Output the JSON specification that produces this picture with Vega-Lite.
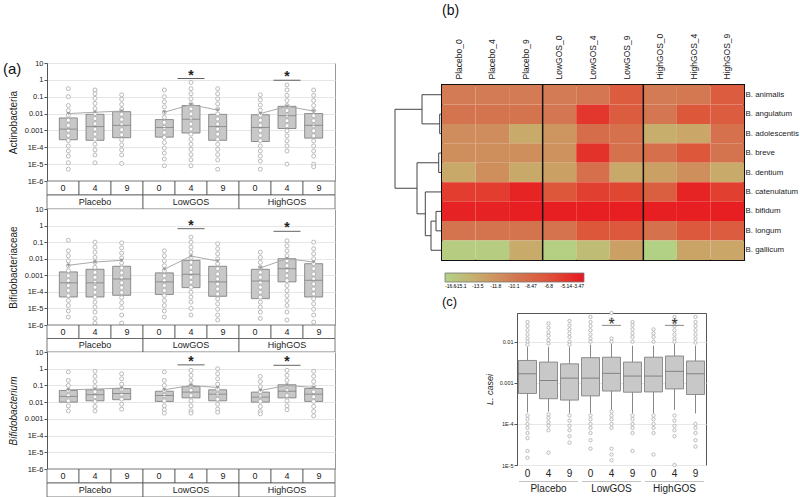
{
  "$schema": "https://vega.github.io/schema/vega-lite/v6.json",
  "padding": {"left": 2, "top": 3, "right": 5, "bottom": 5},
  "background": "white",
  "config": {
    "font": "Liberation Sans",
    "view": {"stroke": null},
    "axis": {"labelColor": "#222", "titleColor": "#222", "titleFontWeight": "normal", "domainColor": "#555", "tickColor": "#555"},
    "title": {"fontWeight": "normal", "color": "#111"}
  },
  "datasets": {
    "boxA": [
      {"p":"Act","g":"Placebo","t":"0","q1":2.8e-4,"med":1.2e-3,"q3":5.5e-3,"mean":0.01},
      {"p":"Act","g":"Placebo","t":"4","q1":2.6e-4,"med":1.7e-3,"q3":9e-3,"mean":0.012},
      {"p":"Act","g":"Placebo","t":"9","q1":3.7e-4,"med":2e-3,"q3":0.013,"mean":0.014},
      {"p":"Act","g":"LowGOS","t":"0","q1":4e-4,"med":1.5e-3,"q3":4.4e-3,"mean":0.012},
      {"p":"Act","g":"LowGOS","t":"4","q1":7e-4,"med":4.6e-3,"q3":0.03,"mean":0.034},
      {"p":"Act","g":"LowGOS","t":"9","q1":2.6e-4,"med":1.7e-3,"q3":9e-3,"mean":0.016},
      {"p":"Act","g":"HighGOS","t":"0","q1":2.2e-4,"med":1.5e-3,"q3":8.5e-3,"mean":0.01},
      {"p":"Act","g":"HighGOS","t":"4","q1":1.3e-3,"med":7.5e-3,"q3":0.027,"mean":0.027},
      {"p":"Act","g":"HighGOS","t":"9","q1":3.5e-4,"med":2e-3,"q3":0.01,"mean":0.014},
      {"p":"Bfc","g":"Placebo","t":"0","q1":4.9e-5,"med":3.5e-4,"q3":1.6e-3,"mean":0.004},
      {"p":"Bfc","g":"Placebo","t":"4","q1":4.9e-5,"med":3.5e-4,"q3":2.3e-3,"mean":0.0063},
      {"p":"Bfc","g":"Placebo","t":"9","q1":6.2e-5,"med":6e-4,"q3":3.5e-3,"mean":0.008},
      {"p":"Bfc","g":"LowGOS","t":"0","q1":7e-5,"med":4e-4,"q3":1.4e-3,"mean":0.0023},
      {"p":"Bfc","g":"LowGOS","t":"4","q1":1.8e-4,"med":1.15e-3,"q3":8e-3,"mean":0.0145},
      {"p":"Bfc","g":"LowGOS","t":"9","q1":5.4e-5,"med":4e-4,"q3":3.5e-3,"mean":0.0072},
      {"p":"Bfc","g":"HighGOS","t":"0","q1":3.9e-5,"med":4.5e-4,"q3":2.3e-3,"mean":0.0028},
      {"p":"Bfc","g":"HighGOS","t":"4","q1":4e-4,"med":2.5e-3,"q3":0.01,"mean":0.01},
      {"p":"Bfc","g":"HighGOS","t":"9","q1":4.9e-5,"med":5e-4,"q3":5e-3,"mean":0.0063},
      {"p":"Bfm","g":"Placebo","t":"0","q1":0.01,"med":0.022,"q3":0.05,"mean":0.055},
      {"p":"Bfm","g":"Placebo","t":"4","q1":0.012,"med":0.028,"q3":0.055,"mean":0.06},
      {"p":"Bfm","g":"Placebo","t":"9","q1":0.014,"med":0.033,"q3":0.065,"mean":0.07},
      {"p":"Bfm","g":"LowGOS","t":"0","q1":0.011,"med":0.025,"q3":0.045,"mean":0.055},
      {"p":"Bfm","g":"LowGOS","t":"4","q1":0.018,"med":0.04,"q3":0.085,"mean":0.1},
      {"p":"Bfm","g":"LowGOS","t":"9","q1":0.012,"med":0.03,"q3":0.055,"mean":0.075},
      {"p":"Bfm","g":"HighGOS","t":"0","q1":0.01,"med":0.02,"q3":0.04,"mean":0.05},
      {"p":"Bfm","g":"HighGOS","t":"4","q1":0.018,"med":0.045,"q3":0.11,"mean":0.1},
      {"p":"Bfm","g":"HighGOS","t":"9","q1":0.011,"med":0.03,"q3":0.065,"mean":0.075}
    ],
    "starsA": [
      {"p":"Act","g":"LowGOS","t":"4","v":1.2},
      {"p":"Act","g":"HighGOS","t":"4","v":0.95},
      {"p":"Bfc","g":"LowGOS","t":"4","v":0.65},
      {"p":"Bfc","g":"HighGOS","t":"4","v":0.45},
      {"p":"Bfm","g":"LowGOS","t":"4","v":1.7},
      {"p":"Bfm","g":"HighGOS","t":"4","v":1.6}
    ],
    "dotsA": [
      {"p":"Act","g":"Placebo","t":"0","v":0.3},{"p":"Act","g":"Placebo","t":"0","v":0.1},{"p":"Act","g":"Placebo","t":"0","v":0.03},{"p":"Act","g":"Placebo","t":"0","v":0.015},{"p":"Act","g":"Placebo","t":"0","v":0.008},{"p":"Act","g":"Placebo","t":"0","v":0.004},{"p":"Act","g":"Placebo","t":"0","v":0.002},{"p":"Act","g":"Placebo","t":"0","v":0.001},{"p":"Act","g":"Placebo","t":"0","v":5e-4},{"p":"Act","g":"Placebo","t":"0","v":2.5e-4},{"p":"Act","g":"Placebo","t":"0","v":1.2e-4},{"p":"Act","g":"Placebo","t":"0","v":6e-5},{"p":"Act","g":"Placebo","t":"0","v":3e-5},{"p":"Act","g":"Placebo","t":"0","v":1.2e-5},{"p":"Act","g":"Placebo","t":"0","v":5e-6},
      {"p":"Act","g":"Placebo","t":"4","v":0.25},{"p":"Act","g":"Placebo","t":"4","v":0.15},{"p":"Act","g":"Placebo","t":"4","v":0.08},{"p":"Act","g":"Placebo","t":"4","v":0.04},{"p":"Act","g":"Placebo","t":"4","v":0.02},{"p":"Act","g":"Placebo","t":"4","v":0.01},{"p":"Act","g":"Placebo","t":"4","v":0.005},{"p":"Act","g":"Placebo","t":"4","v":0.0025},{"p":"Act","g":"Placebo","t":"4","v":0.0012},{"p":"Act","g":"Placebo","t":"4","v":6e-4},{"p":"Act","g":"Placebo","t":"4","v":3e-4},{"p":"Act","g":"Placebo","t":"4","v":1.5e-4},{"p":"Act","g":"Placebo","t":"4","v":7e-5},{"p":"Act","g":"Placebo","t":"4","v":3.5e-5},{"p":"Act","g":"Placebo","t":"4","v":1.2e-5},
      {"p":"Act","g":"Placebo","t":"9","v":0.13},{"p":"Act","g":"Placebo","t":"9","v":0.07},{"p":"Act","g":"Placebo","t":"9","v":0.035},{"p":"Act","g":"Placebo","t":"9","v":0.018},{"p":"Act","g":"Placebo","t":"9","v":0.009},{"p":"Act","g":"Placebo","t":"9","v":0.0045},{"p":"Act","g":"Placebo","t":"9","v":0.0022},{"p":"Act","g":"Placebo","t":"9","v":0.0011},{"p":"Act","g":"Placebo","t":"9","v":5.5e-4},{"p":"Act","g":"Placebo","t":"9","v":2.8e-4},{"p":"Act","g":"Placebo","t":"9","v":1.4e-4},{"p":"Act","g":"Placebo","t":"9","v":7e-5},{"p":"Act","g":"Placebo","t":"9","v":3.5e-5},{"p":"Act","g":"Placebo","t":"9","v":1.1e-5},
      {"p":"Act","g":"LowGOS","t":"0","v":0.25},{"p":"Act","g":"LowGOS","t":"0","v":0.1},{"p":"Act","g":"LowGOS","t":"0","v":0.05},{"p":"Act","g":"LowGOS","t":"0","v":0.025},{"p":"Act","g":"LowGOS","t":"0","v":0.012},{"p":"Act","g":"LowGOS","t":"0","v":0.006},{"p":"Act","g":"LowGOS","t":"0","v":0.003},{"p":"Act","g":"LowGOS","t":"0","v":0.0015},{"p":"Act","g":"LowGOS","t":"0","v":7.5e-4},{"p":"Act","g":"LowGOS","t":"0","v":3.8e-4},{"p":"Act","g":"LowGOS","t":"0","v":1.9e-4},{"p":"Act","g":"LowGOS","t":"0","v":9e-5},{"p":"Act","g":"LowGOS","t":"0","v":4.5e-5},{"p":"Act","g":"LowGOS","t":"0","v":2e-5},{"p":"Act","g":"LowGOS","t":"0","v":8e-6},
      {"p":"Act","g":"LowGOS","t":"4","v":0.7},{"p":"Act","g":"LowGOS","t":"4","v":0.3},{"p":"Act","g":"LowGOS","t":"4","v":0.15},{"p":"Act","g":"LowGOS","t":"4","v":0.075},{"p":"Act","g":"LowGOS","t":"4","v":0.038},{"p":"Act","g":"LowGOS","t":"4","v":0.019},{"p":"Act","g":"LowGOS","t":"4","v":0.0095},{"p":"Act","g":"LowGOS","t":"4","v":0.0048},{"p":"Act","g":"LowGOS","t":"4","v":0.0024},{"p":"Act","g":"LowGOS","t":"4","v":0.0012},{"p":"Act","g":"LowGOS","t":"4","v":6e-4},{"p":"Act","g":"LowGOS","t":"4","v":3e-4},{"p":"Act","g":"LowGOS","t":"4","v":1.5e-4},{"p":"Act","g":"LowGOS","t":"4","v":7.5e-5},{"p":"Act","g":"LowGOS","t":"4","v":3.7e-5},{"p":"Act","g":"LowGOS","t":"4","v":1.8e-5},{"p":"Act","g":"LowGOS","t":"4","v":8e-6},
      {"p":"Act","g":"LowGOS","t":"9","v":0.3},{"p":"Act","g":"LowGOS","t":"9","v":0.15},{"p":"Act","g":"LowGOS","t":"9","v":0.075},{"p":"Act","g":"LowGOS","t":"9","v":0.038},{"p":"Act","g":"LowGOS","t":"9","v":0.019},{"p":"Act","g":"LowGOS","t":"9","v":0.0095},{"p":"Act","g":"LowGOS","t":"9","v":0.0048},{"p":"Act","g":"LowGOS","t":"9","v":0.0024},{"p":"Act","g":"LowGOS","t":"9","v":0.0012},{"p":"Act","g":"LowGOS","t":"9","v":6e-4},{"p":"Act","g":"LowGOS","t":"9","v":3e-4},{"p":"Act","g":"LowGOS","t":"9","v":1.5e-4},{"p":"Act","g":"LowGOS","t":"9","v":7.5e-5},{"p":"Act","g":"LowGOS","t":"9","v":3.7e-5},{"p":"Act","g":"LowGOS","t":"9","v":1.8e-5},{"p":"Act","g":"LowGOS","t":"9","v":5e-6},
      {"p":"Act","g":"HighGOS","t":"0","v":0.13},{"p":"Act","g":"HighGOS","t":"0","v":0.065},{"p":"Act","g":"HighGOS","t":"0","v":0.032},{"p":"Act","g":"HighGOS","t":"0","v":0.016},{"p":"Act","g":"HighGOS","t":"0","v":0.008},{"p":"Act","g":"HighGOS","t":"0","v":0.004},{"p":"Act","g":"HighGOS","t":"0","v":0.002},{"p":"Act","g":"HighGOS","t":"0","v":0.001},{"p":"Act","g":"HighGOS","t":"0","v":5e-4},{"p":"Act","g":"HighGOS","t":"0","v":2.5e-4},{"p":"Act","g":"HighGOS","t":"0","v":1.2e-4},{"p":"Act","g":"HighGOS","t":"0","v":6e-5},{"p":"Act","g":"HighGOS","t":"0","v":3e-5},{"p":"Act","g":"HighGOS","t":"0","v":1.5e-5},{"p":"Act","g":"HighGOS","t":"0","v":5e-6},
      {"p":"Act","g":"HighGOS","t":"4","v":0.5},{"p":"Act","g":"HighGOS","t":"4","v":0.25},{"p":"Act","g":"HighGOS","t":"4","v":0.12},{"p":"Act","g":"HighGOS","t":"4","v":0.06},{"p":"Act","g":"HighGOS","t":"4","v":0.03},{"p":"Act","g":"HighGOS","t":"4","v":0.015},{"p":"Act","g":"HighGOS","t":"4","v":0.0075},{"p":"Act","g":"HighGOS","t":"4","v":0.0038},{"p":"Act","g":"HighGOS","t":"4","v":0.0019},{"p":"Act","g":"HighGOS","t":"4","v":9.5e-4},{"p":"Act","g":"HighGOS","t":"4","v":4.8e-4},{"p":"Act","g":"HighGOS","t":"4","v":2.4e-4},{"p":"Act","g":"HighGOS","t":"4","v":1.2e-4},{"p":"Act","g":"HighGOS","t":"4","v":6e-5},{"p":"Act","g":"HighGOS","t":"4","v":1e-5},
      {"p":"Act","g":"HighGOS","t":"9","v":0.25},{"p":"Act","g":"HighGOS","t":"9","v":0.12},{"p":"Act","g":"HighGOS","t":"9","v":0.06},{"p":"Act","g":"HighGOS","t":"9","v":0.03},{"p":"Act","g":"HighGOS","t":"9","v":0.015},{"p":"Act","g":"HighGOS","t":"9","v":0.0075},{"p":"Act","g":"HighGOS","t":"9","v":0.0038},{"p":"Act","g":"HighGOS","t":"9","v":0.0019},{"p":"Act","g":"HighGOS","t":"9","v":9.5e-4},{"p":"Act","g":"HighGOS","t":"9","v":4.8e-4},{"p":"Act","g":"HighGOS","t":"9","v":2.4e-4},{"p":"Act","g":"HighGOS","t":"9","v":1.2e-4},{"p":"Act","g":"HighGOS","t":"9","v":6e-5},{"p":"Act","g":"HighGOS","t":"9","v":3e-5},{"p":"Act","g":"HighGOS","t":"9","v":1e-5},{"p":"Act","g":"HighGOS","t":"9","v":7e-6},
      {"p":"Bfc","g":"Placebo","t":"0","v":0.13},{"p":"Bfc","g":"Placebo","t":"0","v":0.03},{"p":"Bfc","g":"Placebo","t":"0","v":0.015},{"p":"Bfc","g":"Placebo","t":"0","v":0.0075},{"p":"Bfc","g":"Placebo","t":"0","v":0.0038},{"p":"Bfc","g":"Placebo","t":"0","v":0.0019},{"p":"Bfc","g":"Placebo","t":"0","v":9.5e-4},{"p":"Bfc","g":"Placebo","t":"0","v":4.8e-4},{"p":"Bfc","g":"Placebo","t":"0","v":2.4e-4},{"p":"Bfc","g":"Placebo","t":"0","v":1.2e-4},{"p":"Bfc","g":"Placebo","t":"0","v":6e-5},{"p":"Bfc","g":"Placebo","t":"0","v":3e-5},{"p":"Bfc","g":"Placebo","t":"0","v":1.5e-5},{"p":"Bfc","g":"Placebo","t":"0","v":7e-6},{"p":"Bfc","g":"Placebo","t":"0","v":3e-6},
      {"p":"Bfc","g":"Placebo","t":"4","v":0.1},{"p":"Bfc","g":"Placebo","t":"4","v":0.05},{"p":"Bfc","g":"Placebo","t":"4","v":0.025},{"p":"Bfc","g":"Placebo","t":"4","v":0.012},{"p":"Bfc","g":"Placebo","t":"4","v":0.006},{"p":"Bfc","g":"Placebo","t":"4","v":0.003},{"p":"Bfc","g":"Placebo","t":"4","v":0.0015},{"p":"Bfc","g":"Placebo","t":"4","v":7.5e-4},{"p":"Bfc","g":"Placebo","t":"4","v":3.8e-4},{"p":"Bfc","g":"Placebo","t":"4","v":1.9e-4},{"p":"Bfc","g":"Placebo","t":"4","v":9.5e-5},{"p":"Bfc","g":"Placebo","t":"4","v":4.8e-5},{"p":"Bfc","g":"Placebo","t":"4","v":2.4e-5},{"p":"Bfc","g":"Placebo","t":"4","v":1.2e-5},{"p":"Bfc","g":"Placebo","t":"4","v":6e-6},{"p":"Bfc","g":"Placebo","t":"4","v":2.5e-6},{"p":"Bfc","g":"Placebo","t":"4","v":1.3e-6},
      {"p":"Bfc","g":"Placebo","t":"9","v":0.09},{"p":"Bfc","g":"Placebo","t":"9","v":0.045},{"p":"Bfc","g":"Placebo","t":"9","v":0.022},{"p":"Bfc","g":"Placebo","t":"9","v":0.011},{"p":"Bfc","g":"Placebo","t":"9","v":0.0055},{"p":"Bfc","g":"Placebo","t":"9","v":0.0028},{"p":"Bfc","g":"Placebo","t":"9","v":0.0014},{"p":"Bfc","g":"Placebo","t":"9","v":7e-4},{"p":"Bfc","g":"Placebo","t":"9","v":3.5e-4},{"p":"Bfc","g":"Placebo","t":"9","v":1.8e-4},{"p":"Bfc","g":"Placebo","t":"9","v":9e-5},{"p":"Bfc","g":"Placebo","t":"9","v":4.5e-5},{"p":"Bfc","g":"Placebo","t":"9","v":2.2e-5},{"p":"Bfc","g":"Placebo","t":"9","v":1.1e-5},{"p":"Bfc","g":"Placebo","t":"9","v":4e-6},{"p":"Bfc","g":"Placebo","t":"9","v":1.3e-6},
      {"p":"Bfc","g":"LowGOS","t":"0","v":0.03},{"p":"Bfc","g":"LowGOS","t":"0","v":0.015},{"p":"Bfc","g":"LowGOS","t":"0","v":0.0075},{"p":"Bfc","g":"LowGOS","t":"0","v":0.0038},{"p":"Bfc","g":"LowGOS","t":"0","v":0.0019},{"p":"Bfc","g":"LowGOS","t":"0","v":9.5e-4},{"p":"Bfc","g":"LowGOS","t":"0","v":4.8e-4},{"p":"Bfc","g":"LowGOS","t":"0","v":2.4e-4},{"p":"Bfc","g":"LowGOS","t":"0","v":1.2e-4},{"p":"Bfc","g":"LowGOS","t":"0","v":6e-5},{"p":"Bfc","g":"LowGOS","t":"0","v":3e-5},{"p":"Bfc","g":"LowGOS","t":"0","v":1.5e-5},{"p":"Bfc","g":"LowGOS","t":"0","v":7e-6},{"p":"Bfc","g":"LowGOS","t":"0","v":3e-6},
      {"p":"Bfc","g":"LowGOS","t":"4","v":0.2},{"p":"Bfc","g":"LowGOS","t":"4","v":0.1},{"p":"Bfc","g":"LowGOS","t":"4","v":0.05},{"p":"Bfc","g":"LowGOS","t":"4","v":0.025},{"p":"Bfc","g":"LowGOS","t":"4","v":0.012},{"p":"Bfc","g":"LowGOS","t":"4","v":0.006},{"p":"Bfc","g":"LowGOS","t":"4","v":0.003},{"p":"Bfc","g":"LowGOS","t":"4","v":0.0015},{"p":"Bfc","g":"LowGOS","t":"4","v":7.5e-4},{"p":"Bfc","g":"LowGOS","t":"4","v":3.8e-4},{"p":"Bfc","g":"LowGOS","t":"4","v":1.9e-4},{"p":"Bfc","g":"LowGOS","t":"4","v":9.5e-5},{"p":"Bfc","g":"LowGOS","t":"4","v":4.8e-5},{"p":"Bfc","g":"LowGOS","t":"4","v":2.4e-5},{"p":"Bfc","g":"LowGOS","t":"4","v":1e-5},{"p":"Bfc","g":"LowGOS","t":"4","v":4e-6},
      {"p":"Bfc","g":"LowGOS","t":"9","v":0.08},{"p":"Bfc","g":"LowGOS","t":"9","v":0.04},{"p":"Bfc","g":"LowGOS","t":"9","v":0.02},{"p":"Bfc","g":"LowGOS","t":"9","v":0.01},{"p":"Bfc","g":"LowGOS","t":"9","v":0.005},{"p":"Bfc","g":"LowGOS","t":"9","v":0.0025},{"p":"Bfc","g":"LowGOS","t":"9","v":0.0012},{"p":"Bfc","g":"LowGOS","t":"9","v":6e-4},{"p":"Bfc","g":"LowGOS","t":"9","v":3e-4},{"p":"Bfc","g":"LowGOS","t":"9","v":1.5e-4},{"p":"Bfc","g":"LowGOS","t":"9","v":7.5e-5},{"p":"Bfc","g":"LowGOS","t":"9","v":3.8e-5},{"p":"Bfc","g":"LowGOS","t":"9","v":1.9e-5},{"p":"Bfc","g":"LowGOS","t":"9","v":9e-6},{"p":"Bfc","g":"LowGOS","t":"9","v":4e-6},{"p":"Bfc","g":"LowGOS","t":"9","v":2e-6},
      {"p":"Bfc","g":"HighGOS","t":"0","v":0.025},{"p":"Bfc","g":"HighGOS","t":"0","v":0.012},{"p":"Bfc","g":"HighGOS","t":"0","v":0.006},{"p":"Bfc","g":"HighGOS","t":"0","v":0.003},{"p":"Bfc","g":"HighGOS","t":"0","v":0.0015},{"p":"Bfc","g":"HighGOS","t":"0","v":7.5e-4},{"p":"Bfc","g":"HighGOS","t":"0","v":3.8e-4},{"p":"Bfc","g":"HighGOS","t":"0","v":1.9e-4},{"p":"Bfc","g":"HighGOS","t":"0","v":9.5e-5},{"p":"Bfc","g":"HighGOS","t":"0","v":4.8e-5},{"p":"Bfc","g":"HighGOS","t":"0","v":2.4e-5},{"p":"Bfc","g":"HighGOS","t":"0","v":1.2e-5},{"p":"Bfc","g":"HighGOS","t":"0","v":6e-6},{"p":"Bfc","g":"HighGOS","t":"0","v":2.5e-6},
      {"p":"Bfc","g":"HighGOS","t":"4","v":0.12},{"p":"Bfc","g":"HighGOS","t":"4","v":0.06},{"p":"Bfc","g":"HighGOS","t":"4","v":0.03},{"p":"Bfc","g":"HighGOS","t":"4","v":0.015},{"p":"Bfc","g":"HighGOS","t":"4","v":0.0075},{"p":"Bfc","g":"HighGOS","t":"4","v":0.0038},{"p":"Bfc","g":"HighGOS","t":"4","v":0.0019},{"p":"Bfc","g":"HighGOS","t":"4","v":9.5e-4},{"p":"Bfc","g":"HighGOS","t":"4","v":4.8e-4},{"p":"Bfc","g":"HighGOS","t":"4","v":2.4e-4},{"p":"Bfc","g":"HighGOS","t":"4","v":1.2e-4},{"p":"Bfc","g":"HighGOS","t":"4","v":6e-5},{"p":"Bfc","g":"HighGOS","t":"4","v":3e-5},{"p":"Bfc","g":"HighGOS","t":"4","v":1.5e-5},{"p":"Bfc","g":"HighGOS","t":"4","v":6e-6},{"p":"Bfc","g":"HighGOS","t":"4","v":2e-6},
      {"p":"Bfc","g":"HighGOS","t":"9","v":0.1},{"p":"Bfc","g":"HighGOS","t":"9","v":0.04},{"p":"Bfc","g":"HighGOS","t":"9","v":0.02},{"p":"Bfc","g":"HighGOS","t":"9","v":0.01},{"p":"Bfc","g":"HighGOS","t":"9","v":0.005},{"p":"Bfc","g":"HighGOS","t":"9","v":0.0025},{"p":"Bfc","g":"HighGOS","t":"9","v":0.0012},{"p":"Bfc","g":"HighGOS","t":"9","v":6e-4},{"p":"Bfc","g":"HighGOS","t":"9","v":3e-4},{"p":"Bfc","g":"HighGOS","t":"9","v":1.5e-4},{"p":"Bfc","g":"HighGOS","t":"9","v":7.5e-5},{"p":"Bfc","g":"HighGOS","t":"9","v":3.8e-5},{"p":"Bfc","g":"HighGOS","t":"9","v":1.9e-5},{"p":"Bfc","g":"HighGOS","t":"9","v":9e-6},{"p":"Bfc","g":"HighGOS","t":"9","v":4e-6},{"p":"Bfc","g":"HighGOS","t":"9","v":1.5e-6},
      {"p":"Bfm","g":"Placebo","t":"0","v":0.65},{"p":"Bfm","g":"Placebo","t":"0","v":0.2},{"p":"Bfm","g":"Placebo","t":"0","v":0.1},{"p":"Bfm","g":"Placebo","t":"0","v":0.05},{"p":"Bfm","g":"Placebo","t":"0","v":0.025},{"p":"Bfm","g":"Placebo","t":"0","v":0.012},{"p":"Bfm","g":"Placebo","t":"0","v":0.006},{"p":"Bfm","g":"Placebo","t":"0","v":0.003},
      {"p":"Bfm","g":"Placebo","t":"4","v":0.7},{"p":"Bfm","g":"Placebo","t":"4","v":0.35},{"p":"Bfm","g":"Placebo","t":"4","v":0.17},{"p":"Bfm","g":"Placebo","t":"4","v":0.085},{"p":"Bfm","g":"Placebo","t":"4","v":0.042},{"p":"Bfm","g":"Placebo","t":"4","v":0.021},{"p":"Bfm","g":"Placebo","t":"4","v":0.011},{"p":"Bfm","g":"Placebo","t":"4","v":0.0055},{"p":"Bfm","g":"Placebo","t":"4","v":0.003},
      {"p":"Bfm","g":"Placebo","t":"9","v":0.5},{"p":"Bfm","g":"Placebo","t":"9","v":0.25},{"p":"Bfm","g":"Placebo","t":"9","v":0.12},{"p":"Bfm","g":"Placebo","t":"9","v":0.06},{"p":"Bfm","g":"Placebo","t":"9","v":0.03},{"p":"Bfm","g":"Placebo","t":"9","v":0.015},{"p":"Bfm","g":"Placebo","t":"9","v":0.0075},{"p":"Bfm","g":"Placebo","t":"9","v":0.0038},
      {"p":"Bfm","g":"LowGOS","t":"0","v":0.65},{"p":"Bfm","g":"LowGOS","t":"0","v":0.2},{"p":"Bfm","g":"LowGOS","t":"0","v":0.1},{"p":"Bfm","g":"LowGOS","t":"0","v":0.05},{"p":"Bfm","g":"LowGOS","t":"0","v":0.025},{"p":"Bfm","g":"LowGOS","t":"0","v":0.012},{"p":"Bfm","g":"LowGOS","t":"0","v":0.006},{"p":"Bfm","g":"LowGOS","t":"0","v":0.0035},{"p":"Bfm","g":"LowGOS","t":"0","v":0.0022},
      {"p":"Bfm","g":"LowGOS","t":"4","v":0.8},{"p":"Bfm","g":"LowGOS","t":"4","v":0.4},{"p":"Bfm","g":"LowGOS","t":"4","v":0.2},{"p":"Bfm","g":"LowGOS","t":"4","v":0.1},{"p":"Bfm","g":"LowGOS","t":"4","v":0.05},{"p":"Bfm","g":"LowGOS","t":"4","v":0.025},{"p":"Bfm","g":"LowGOS","t":"4","v":0.012},{"p":"Bfm","g":"LowGOS","t":"4","v":0.006},{"p":"Bfm","g":"LowGOS","t":"4","v":0.003},{"p":"Bfm","g":"LowGOS","t":"4","v":0.0022},
      {"p":"Bfm","g":"LowGOS","t":"9","v":1},{"p":"Bfm","g":"LowGOS","t":"9","v":0.5},{"p":"Bfm","g":"LowGOS","t":"9","v":0.25},{"p":"Bfm","g":"LowGOS","t":"9","v":0.12},{"p":"Bfm","g":"LowGOS","t":"9","v":0.06},{"p":"Bfm","g":"LowGOS","t":"9","v":0.03},{"p":"Bfm","g":"LowGOS","t":"9","v":0.015},{"p":"Bfm","g":"LowGOS","t":"9","v":0.0075},{"p":"Bfm","g":"LowGOS","t":"9","v":0.0038},{"p":"Bfm","g":"LowGOS","t":"9","v":0.0025},
      {"p":"Bfm","g":"HighGOS","t":"0","v":0.35},{"p":"Bfm","g":"HighGOS","t":"0","v":0.17},{"p":"Bfm","g":"HighGOS","t":"0","v":0.085},{"p":"Bfm","g":"HighGOS","t":"0","v":0.042},{"p":"Bfm","g":"HighGOS","t":"0","v":0.021},{"p":"Bfm","g":"HighGOS","t":"0","v":0.011},{"p":"Bfm","g":"HighGOS","t":"0","v":0.0055},{"p":"Bfm","g":"HighGOS","t":"0","v":0.0028},{"p":"Bfm","g":"HighGOS","t":"0","v":0.002},
      {"p":"Bfm","g":"HighGOS","t":"4","v":0.8},{"p":"Bfm","g":"HighGOS","t":"4","v":0.4},{"p":"Bfm","g":"HighGOS","t":"4","v":0.2},{"p":"Bfm","g":"HighGOS","t":"4","v":0.1},{"p":"Bfm","g":"HighGOS","t":"4","v":0.05},{"p":"Bfm","g":"HighGOS","t":"4","v":0.025},{"p":"Bfm","g":"HighGOS","t":"4","v":0.012},{"p":"Bfm","g":"HighGOS","t":"4","v":0.006},{"p":"Bfm","g":"HighGOS","t":"4","v":0.0035},
      {"p":"Bfm","g":"HighGOS","t":"9","v":0.7},{"p":"Bfm","g":"HighGOS","t":"9","v":0.35},{"p":"Bfm","g":"HighGOS","t":"9","v":0.17},{"p":"Bfm","g":"HighGOS","t":"9","v":0.085},{"p":"Bfm","g":"HighGOS","t":"9","v":0.042},{"p":"Bfm","g":"HighGOS","t":"9","v":0.021},{"p":"Bfm","g":"HighGOS","t":"9","v":0.011},{"p":"Bfm","g":"HighGOS","t":"9","v":0.0055},{"p":"Bfm","g":"HighGOS","t":"9","v":0.0028},{"p":"Bfm","g":"HighGOS","t":"9","v":0.0015}
    ],
    "tblT": [
      {"g":"Placebo","t":"0","r":"t"},{"g":"Placebo","t":"4","r":"t"},{"g":"Placebo","t":"9","r":"t"},
      {"g":"LowGOS","t":"0","r":"t"},{"g":"LowGOS","t":"4","r":"t"},{"g":"LowGOS","t":"9","r":"t"},
      {"g":"HighGOS","t":"0","r":"t"},{"g":"HighGOS","t":"4","r":"t"},{"g":"HighGOS","t":"9","r":"t"}
    ],
    "tblG": [{"g":"Placebo","r":"g"},{"g":"LowGOS","r":"g"},{"g":"HighGOS","r":"g"}],
    "lineC": [{"g":"Placebo","r":"l"},{"g":"LowGOS","r":"l"},{"g":"HighGOS","r":"l"}],
    "heat": [
      {"s":"B. animalis","c":"Placebo_0","v":-10.2},{"s":"B. animalis","c":"Placebo_4","v":-10.2},{"s":"B. animalis","c":"Placebo_9","v":-10.2},{"s":"B. animalis","c":"LowGOS_0","v":-10.2},{"s":"B. animalis","c":"LowGOS_4","v":-9.8},{"s":"B. animalis","c":"LowGOS_9","v":-7.6},{"s":"B. animalis","c":"HighGOS_0","v":-10.2},{"s":"B. animalis","c":"HighGOS_4","v":-9.9},{"s":"B. animalis","c":"HighGOS_9","v":-7.6},
      {"s":"B. angulatum","c":"Placebo_0","v":-9.6},{"s":"B. angulatum","c":"Placebo_4","v":-9.6},{"s":"B. angulatum","c":"Placebo_9","v":-9.6},{"s":"B. angulatum","c":"LowGOS_0","v":-9.8},{"s":"B. angulatum","c":"LowGOS_4","v":-5.2},{"s":"B. angulatum","c":"LowGOS_9","v":-7.6},{"s":"B. angulatum","c":"HighGOS_0","v":-9.8},{"s":"B. angulatum","c":"HighGOS_4","v":-7.2},{"s":"B. angulatum","c":"HighGOS_9","v":-7.6},
      {"s":"B. adolescentis","c":"Placebo_0","v":-11.4},{"s":"B. adolescentis","c":"Placebo_4","v":-11.4},{"s":"B. adolescentis","c":"Placebo_9","v":-13.6},{"s":"B. adolescentis","c":"LowGOS_0","v":-12},{"s":"B. adolescentis","c":"LowGOS_4","v":-9},{"s":"B. adolescentis","c":"LowGOS_9","v":-9.4},{"s":"B. adolescentis","c":"HighGOS_0","v":-13.8},{"s":"B. adolescentis","c":"HighGOS_4","v":-13.2},{"s":"B. adolescentis","c":"HighGOS_9","v":-9.4},
      {"s":"B. breve","c":"Placebo_0","v":-11.6},{"s":"B. breve","c":"Placebo_4","v":-11.6},{"s":"B. breve","c":"Placebo_9","v":-11.6},{"s":"B. breve","c":"LowGOS_0","v":-11.8},{"s":"B. breve","c":"LowGOS_4","v":-5},{"s":"B. breve","c":"LowGOS_9","v":-9.4},{"s":"B. breve","c":"HighGOS_0","v":-9.2},{"s":"B. breve","c":"HighGOS_4","v":-7.2},{"s":"B. breve","c":"HighGOS_9","v":-9.6},
      {"s":"B. dentium","c":"Placebo_0","v":-13.4},{"s":"B. dentium","c":"Placebo_4","v":-11.6},{"s":"B. dentium","c":"Placebo_9","v":-13.4},{"s":"B. dentium","c":"LowGOS_0","v":-12.8},{"s":"B. dentium","c":"LowGOS_4","v":-9.2},{"s":"B. dentium","c":"LowGOS_9","v":-13.4},{"s":"B. dentium","c":"HighGOS_0","v":-12.8},{"s":"B. dentium","c":"HighGOS_4","v":-11.6},{"s":"B. dentium","c":"HighGOS_9","v":-13.6},
      {"s":"B. catenulatum","c":"Placebo_0","v":-5.6},{"s":"B. catenulatum","c":"Placebo_4","v":-5.6},{"s":"B. catenulatum","c":"Placebo_9","v":-4.2},{"s":"B. catenulatum","c":"LowGOS_0","v":-7.2},{"s":"B. catenulatum","c":"LowGOS_4","v":-5.8},{"s":"B. catenulatum","c":"LowGOS_9","v":-6.2},{"s":"B. catenulatum","c":"HighGOS_0","v":-7.8},{"s":"B. catenulatum","c":"HighGOS_4","v":-4.2},{"s":"B. catenulatum","c":"HighGOS_9","v":-5.8},
      {"s":"B. bifidum","c":"Placebo_0","v":-4.1},{"s":"B. bifidum","c":"Placebo_4","v":-4.1},{"s":"B. bifidum","c":"Placebo_9","v":-3.9},{"s":"B. bifidum","c":"LowGOS_0","v":-3.9},{"s":"B. bifidum","c":"LowGOS_4","v":-3.9},{"s":"B. bifidum","c":"LowGOS_9","v":-3.9},{"s":"B. bifidum","c":"HighGOS_0","v":-3.9},{"s":"B. bifidum","c":"HighGOS_4","v":-3.9},{"s":"B. bifidum","c":"HighGOS_9","v":-3.9},
      {"s":"B. longum","c":"Placebo_0","v":-9.6},{"s":"B. longum","c":"Placebo_4","v":-9.6},{"s":"B. longum","c":"Placebo_9","v":-9.6},{"s":"B. longum","c":"LowGOS_0","v":-9.5},{"s":"B. longum","c":"LowGOS_4","v":-7.2},{"s":"B. longum","c":"LowGOS_9","v":-7.4},{"s":"B. longum","c":"HighGOS_0","v":-9.4},{"s":"B. longum","c":"HighGOS_4","v":-7.4},{"s":"B. longum","c":"HighGOS_9","v":-7.6},
      {"s":"B. gallicum","c":"Placebo_0","v":-16},{"s":"B. gallicum","c":"Placebo_4","v":-16},{"s":"B. gallicum","c":"Placebo_9","v":-13.6},{"s":"B. gallicum","c":"LowGOS_0","v":-16.2},{"s":"B. gallicum","c":"LowGOS_4","v":-14.8},{"s":"B. gallicum","c":"LowGOS_9","v":-12.8},{"s":"B. gallicum","c":"HighGOS_0","v":-16.4},{"s":"B. gallicum","c":"HighGOS_4","v":-13},{"s":"B. gallicum","c":"HighGOS_9","v":-13.2}
    ],
    "gsep": [{"c":"LowGOS_0"},{"c":"HighGOS_0"}],
    "dendro": [
      {"h1":2.3,"h2":2.3,"y1":1,"y2":2},{"h1":20,"h2":20,"y1":0,"y2":1.5},{"h1":3.3,"h2":3.3,"y1":3,"y2":4},{"h1":6,"h2":6,"y1":6,"y2":7},
      {"h1":11,"h2":11,"y1":6.5,"y2":8},{"h1":16.7,"h2":16.7,"y1":5,"y2":7.25},{"h1":25,"h2":25,"y1":3.5,"y2":6.125},{"h1":47,"h2":47,"y1":0.75,"y2":4.81},
      {"h1":0,"h2":20,"y1":0,"y2":0},{"h1":0,"h2":2.3,"y1":1,"y2":1},{"h1":0,"h2":2.3,"y1":2,"y2":2},{"h1":0,"h2":3.3,"y1":3,"y2":3},{"h1":0,"h2":3.3,"y1":4,"y2":4},
      {"h1":0,"h2":16.7,"y1":5,"y2":5},{"h1":0,"h2":6,"y1":6,"y2":6},{"h1":0,"h2":6,"y1":7,"y2":7},{"h1":0,"h2":11,"y1":8,"y2":8},
      {"h1":2.3,"h2":20,"y1":1.5,"y2":1.5},{"h1":3.3,"h2":25,"y1":3.5,"y2":3.5},{"h1":6,"h2":11,"y1":6.5,"y2":6.5},{"h1":11,"h2":16.7,"y1":7.25,"y2":7.25},
      {"h1":16.7,"h2":25,"y1":6.125,"y2":6.125},{"h1":20,"h2":47,"y1":0.75,"y2":0.75},{"h1":25,"h2":47,"y1":4.81,"y2":4.81}
    ],
    "boxC": [
      {"g":"Placebo","t":"0","lo":1.9e-4,"q1":5.5e-4,"med":1.66e-3,"q3":3.5e-3,"hi":7.5e-3},
      {"g":"Placebo","t":"4","lo":2e-4,"q1":4.1e-4,"med":1.14e-3,"q3":3.2e-3,"hi":7.5e-3},
      {"g":"Placebo","t":"9","lo":1.8e-4,"q1":3.8e-4,"med":1.3e-3,"q3":2.9e-3,"hi":7.5e-3},
      {"g":"LowGOS","t":"0","lo":1.8e-4,"q1":4.8e-4,"med":1.3e-3,"q3":4.1e-3,"hi":8.5e-3},
      {"g":"LowGOS","t":"4","lo":2.2e-4,"q1":6.3e-4,"med":1.7e-3,"q3":4.2e-3,"hi":9e-3},
      {"g":"LowGOS","t":"9","lo":1.8e-4,"q1":5.9e-4,"med":1.46e-3,"q3":3.2e-3,"hi":8e-3},
      {"g":"HighGOS","t":"0","lo":1.8e-4,"q1":6e-4,"med":1.46e-3,"q3":4.2e-3,"hi":8e-3},
      {"g":"HighGOS","t":"4","lo":2.2e-4,"q1":7.1e-4,"med":1.9e-3,"q3":4.5e-3,"hi":9e-3},
      {"g":"HighGOS","t":"9","lo":1.8e-4,"q1":5.2e-4,"med":1.66e-3,"q3":3.4e-3,"hi":8e-3}
    ],
    "starsC": [{"g":"LowGOS","t":"4","v":0.025},{"g":"HighGOS","t":"4","v":0.025}],
    "dotsC": [
      {"g":"Placebo","t":"0","v":0.03},{"g":"Placebo","t":"0","v":0.024},{"g":"Placebo","t":"0","v":0.019},{"g":"Placebo","t":"0","v":0.015},{"g":"Placebo","t":"0","v":0.012},{"g":"Placebo","t":"0","v":0.01},{"g":"Placebo","t":"0","v":0.0085},{"g":"Placebo","t":"0","v":1.6e-4},{"g":"Placebo","t":"0","v":1.3e-4},{"g":"Placebo","t":"0","v":1e-4},{"g":"Placebo","t":"0","v":8e-5},{"g":"Placebo","t":"0","v":6e-5},{"g":"Placebo","t":"0","v":4.5e-5},{"g":"Placebo","t":"0","v":2.2e-5},{"g":"Placebo","t":"0","v":1.5e-5},
      {"g":"Placebo","t":"4","v":0.028},{"g":"Placebo","t":"4","v":0.022},{"g":"Placebo","t":"4","v":0.017},{"g":"Placebo","t":"4","v":0.014},{"g":"Placebo","t":"4","v":0.011},{"g":"Placebo","t":"4","v":0.009},{"g":"Placebo","t":"4","v":1.7e-4},{"g":"Placebo","t":"4","v":1.4e-4},{"g":"Placebo","t":"4","v":1.1e-4},{"g":"Placebo","t":"4","v":9e-5},{"g":"Placebo","t":"4","v":7e-5},{"g":"Placebo","t":"4","v":2e-5},
      {"g":"Placebo","t":"9","v":0.032},{"g":"Placebo","t":"9","v":0.025},{"g":"Placebo","t":"9","v":0.02},{"g":"Placebo","t":"9","v":0.016},{"g":"Placebo","t":"9","v":0.013},{"g":"Placebo","t":"9","v":0.01},{"g":"Placebo","t":"9","v":0.0085},{"g":"Placebo","t":"9","v":1.6e-4},{"g":"Placebo","t":"9","v":1.2e-4},{"g":"Placebo","t":"9","v":9e-5},{"g":"Placebo","t":"9","v":7e-5},{"g":"Placebo","t":"9","v":5e-5},{"g":"Placebo","t":"9","v":3.5e-5},
      {"g":"LowGOS","t":"0","v":0.04},{"g":"LowGOS","t":"0","v":0.03},{"g":"LowGOS","t":"0","v":0.024},{"g":"LowGOS","t":"0","v":0.019},{"g":"LowGOS","t":"0","v":0.015},{"g":"LowGOS","t":"0","v":0.012},{"g":"LowGOS","t":"0","v":0.01},{"g":"LowGOS","t":"0","v":1.6e-4},{"g":"LowGOS","t":"0","v":1.3e-4},{"g":"LowGOS","t":"0","v":1e-4},{"g":"LowGOS","t":"0","v":8e-5},{"g":"LowGOS","t":"0","v":6e-5},{"g":"LowGOS","t":"0","v":4e-5},{"g":"LowGOS","t":"0","v":2.5e-5},
      {"g":"LowGOS","t":"4","v":0.05},{"g":"LowGOS","t":"4","v":0.035},{"g":"LowGOS","t":"4","v":0.012},{"g":"LowGOS","t":"4","v":0.01},{"g":"LowGOS","t":"4","v":2e-4},{"g":"LowGOS","t":"4","v":1.6e-4},{"g":"LowGOS","t":"4","v":1.3e-4},{"g":"LowGOS","t":"4","v":1e-4},{"g":"LowGOS","t":"4","v":8e-5},{"g":"LowGOS","t":"4","v":2.5e-5},{"g":"LowGOS","t":"4","v":1.8e-5},{"g":"LowGOS","t":"4","v":1.3e-5},
      {"g":"LowGOS","t":"9","v":0.03},{"g":"LowGOS","t":"9","v":0.025},{"g":"LowGOS","t":"9","v":0.02},{"g":"LowGOS","t":"9","v":0.016},{"g":"LowGOS","t":"9","v":0.013},{"g":"LowGOS","t":"9","v":0.01},{"g":"LowGOS","t":"9","v":1.6e-4},{"g":"LowGOS","t":"9","v":1.3e-4},{"g":"LowGOS","t":"9","v":1e-4},{"g":"LowGOS","t":"9","v":8e-5},{"g":"LowGOS","t":"9","v":6e-5},{"g":"LowGOS","t":"9","v":2.2e-5},
      {"g":"HighGOS","t":"0","v":0.02},{"g":"HighGOS","t":"0","v":0.016},{"g":"HighGOS","t":"0","v":0.013},{"g":"HighGOS","t":"0","v":0.01},{"g":"HighGOS","t":"0","v":1.6e-4},{"g":"HighGOS","t":"0","v":1.3e-4},{"g":"HighGOS","t":"0","v":1e-4},{"g":"HighGOS","t":"0","v":8e-5},{"g":"HighGOS","t":"0","v":6e-5},{"g":"HighGOS","t":"0","v":1.8e-5},
      {"g":"HighGOS","t":"4","v":0.04},{"g":"HighGOS","t":"4","v":0.03},{"g":"HighGOS","t":"4","v":0.024},{"g":"HighGOS","t":"4","v":0.019},{"g":"HighGOS","t":"4","v":0.015},{"g":"HighGOS","t":"4","v":0.012},{"g":"HighGOS","t":"4","v":0.01},{"g":"HighGOS","t":"4","v":1.6e-4},{"g":"HighGOS","t":"4","v":1.2e-4},{"g":"HighGOS","t":"4","v":9e-5},{"g":"HighGOS","t":"4","v":7e-5},{"g":"HighGOS","t":"4","v":5e-5},{"g":"HighGOS","t":"4","v":1e-5},
      {"g":"HighGOS","t":"9","v":0.04},{"g":"HighGOS","t":"9","v":0.03},{"g":"HighGOS","t":"9","v":0.024},{"g":"HighGOS","t":"9","v":0.019},{"g":"HighGOS","t":"9","v":0.015},{"g":"HighGOS","t":"9","v":0.012},{"g":"HighGOS","t":"9","v":0.0095},{"g":"HighGOS","t":"9","v":1e-4},{"g":"HighGOS","t":"9","v":8e-5},{"g":"HighGOS","t":"9","v":6e-5},{"g":"HighGOS","t":"9","v":4e-5},{"g":"HighGOS","t":"9","v":2.8e-5}
    ]
  },
  "hconcat": [
    {
      "vconcat": [
        {
          "width": 288, "height": 118,
          "title": {"text": "(a)", "anchor": "start", "frame": "group", "fontSize": 15, "dx": -44, "dy": 18, "offset": 0},
          "view": {"stroke": "#999"},
          "encoding": {
            "x": {"field": "g", "type": "nominal", "sort": ["Placebo", "LowGOS", "HighGOS"], "scale": {"type": "band", "paddingInner": 0, "paddingOuter": 0}, "axis": null},
            "xOffset": {"field": "t", "type": "nominal", "sort": ["0", "4", "9"], "scale": {"type": "band", "paddingInner": 0, "paddingOuter": 0.3}}
          },
          "layer": [
            {"data": {"name": "boxA"}, "transform": [{"filter": {"field": "p", "equal": "Act"}}],
             "mark": {"type": "bar", "width": 18, "fill": "#c8c8c8", "stroke": "#777", "strokeWidth": 0.8},
             "encoding": {"y": {"field": "q1", "type": "quantitative", "scale": {"type": "log", "domain": [1e-6, 10], "nice": false},
               "axis": {"values": [1e-6, 1e-5, 1e-4, 0.001, 0.01, 0.1, 1, 10], "labelExpr": "datum.value >= 0.0009 ? format(datum.value, '~g') : '1E-' + round(-log(datum.value)/LN10)", "labelFontSize": 7.5, "labelPadding": 1, "tickSize": 3, "grid": true, "gridColor": "#e6e6e6", "title": "Actinobacteria", "titleFontSize": 10, "titlePadding": 6}},
               "y2": {"field": "q3"}}},
            {"data": {"name": "dotsA"}, "transform": [{"filter": {"field": "p", "equal": "Act"}}],
             "mark": {"type": "point", "shape": "circle", "filled": true, "fill": "white", "stroke": "#aaa", "strokeWidth": 0.8, "size": 16, "opacity": 1},
             "encoding": {"y": {"field": "v", "type": "quantitative"}}},
            {"data": {"name": "boxA"}, "transform": [{"filter": {"field": "p", "equal": "Act"}}],
             "mark": {"type": "tick", "size": 18, "thickness": 1, "color": "#777"},
             "encoding": {"y": {"field": "med", "type": "quantitative"}}},
            {"data": {"name": "boxA"}, "transform": [{"filter": {"field": "p", "equal": "Act"}}],
             "mark": {"type": "line", "color": "#aaa", "strokeWidth": 1},
             "encoding": {"y": {"field": "mean", "type": "quantitative"}, "detail": {"field": "g"}, "order": {"field": "t"}}},
            {"data": {"name": "boxA"}, "transform": [{"filter": {"field": "p", "equal": "Act"}}],
             "mark": {"type": "point", "shape": "triangle-down", "filled": true, "color": "#999", "size": 14, "opacity": 1},
             "encoding": {"y": {"field": "mean", "type": "quantitative"}}},
            {"data": {"name": "starsA"}, "transform": [{"filter": {"field": "p", "equal": "Act"}}],
             "mark": {"type": "tick", "size": 27, "thickness": 1, "color": "#222"},
             "encoding": {"y": {"field": "v", "type": "quantitative"}}},
            {"data": {"name": "starsA"}, "transform": [{"filter": {"field": "p", "equal": "Act"}}],
             "mark": {"type": "text", "text": "*", "fontSize": 14, "fontWeight": "bold", "baseline": "alphabetic", "dy": 1, "color": "#222"},
             "encoding": {"y": {"field": "v", "type": "quantitative"}}}
          ]
        },
        {
          "width": 288, "height": 28,
          "encoding": {
            "x": {"field": "g", "type": "nominal", "sort": ["Placebo", "LowGOS", "HighGOS"], "scale": {"type": "band", "paddingInner": 0, "paddingOuter": 0}, "axis": null},
            "y": {"field": "r", "type": "nominal", "scale": {"type": "band", "domain": ["t", "g"], "paddingInner": 0, "paddingOuter": 0}, "axis": null}
          },
          "layer": [
            {"data": {"name": "tblT"}, "mark": {"type": "rect", "fill": "white", "stroke": "#555", "strokeWidth": 0.8},
             "encoding": {"xOffset": {"field": "t", "type": "nominal", "sort": ["0", "4", "9"], "scale": {"type": "band", "paddingInner": 0, "paddingOuter": 0}}}},
            {"data": {"name": "tblT"}, "mark": {"type": "text", "fontSize": 9, "color": "#222"},
             "encoding": {"xOffset": {"field": "t", "type": "nominal", "sort": ["0", "4", "9"]}, "text": {"field": "t"}}},
            {"data": {"name": "tblG"}, "mark": {"type": "rect", "fill": "white", "stroke": "#555", "strokeWidth": 0.8}},
            {"data": {"name": "tblG"}, "mark": {"type": "text", "fontSize": 9, "color": "#222"}, "encoding": {"text": {"field": "g"}}}
          ]
        },
        {
          "width": 288, "height": 116,
          "view": {"stroke": "#999"},
          "encoding": {
            "x": {"field": "g", "type": "nominal", "sort": ["Placebo", "LowGOS", "HighGOS"], "scale": {"type": "band", "paddingInner": 0, "paddingOuter": 0}, "axis": null},
            "xOffset": {"field": "t", "type": "nominal", "sort": ["0", "4", "9"], "scale": {"type": "band", "paddingInner": 0, "paddingOuter": 0.3}}
          },
          "layer": [
            {"data": {"name": "boxA"}, "transform": [{"filter": {"field": "p", "equal": "Bfc"}}],
             "mark": {"type": "bar", "width": 18, "fill": "#c8c8c8", "stroke": "#777", "strokeWidth": 0.8},
             "encoding": {"y": {"field": "q1", "type": "quantitative", "scale": {"type": "log", "domain": [1e-6, 10], "nice": false},
               "axis": {"values": [1e-6, 1e-5, 1e-4, 0.001, 0.01, 0.1, 1, 10], "labelExpr": "datum.value >= 0.0009 ? format(datum.value, '~g') : '1E-' + round(-log(datum.value)/LN10)", "labelFontSize": 7.5, "labelPadding": 1, "tickSize": 3, "grid": true, "gridColor": "#e6e6e6", "title": "Bifidobacteriaceae", "titleFontSize": 10, "titlePadding": 6}},
               "y2": {"field": "q3"}}},
            {"data": {"name": "dotsA"}, "transform": [{"filter": {"field": "p", "equal": "Bfc"}}],
             "mark": {"type": "point", "shape": "circle", "filled": true, "fill": "white", "stroke": "#aaa", "strokeWidth": 0.8, "size": 16, "opacity": 1},
             "encoding": {"y": {"field": "v", "type": "quantitative"}}},
            {"data": {"name": "boxA"}, "transform": [{"filter": {"field": "p", "equal": "Bfc"}}],
             "mark": {"type": "tick", "size": 18, "thickness": 1, "color": "#777"},
             "encoding": {"y": {"field": "med", "type": "quantitative"}}},
            {"data": {"name": "boxA"}, "transform": [{"filter": {"field": "p", "equal": "Bfc"}}],
             "mark": {"type": "line", "color": "#aaa", "strokeWidth": 1},
             "encoding": {"y": {"field": "mean", "type": "quantitative"}, "detail": {"field": "g"}, "order": {"field": "t"}}},
            {"data": {"name": "boxA"}, "transform": [{"filter": {"field": "p", "equal": "Bfc"}}],
             "mark": {"type": "point", "shape": "triangle-down", "filled": true, "color": "#999", "size": 14, "opacity": 1},
             "encoding": {"y": {"field": "mean", "type": "quantitative"}}},
            {"data": {"name": "starsA"}, "transform": [{"filter": {"field": "p", "equal": "Bfc"}}],
             "mark": {"type": "tick", "size": 27, "thickness": 1, "color": "#222"},
             "encoding": {"y": {"field": "v", "type": "quantitative"}}},
            {"data": {"name": "starsA"}, "transform": [{"filter": {"field": "p", "equal": "Bfc"}}],
             "mark": {"type": "text", "text": "*", "fontSize": 14, "fontWeight": "bold", "baseline": "alphabetic", "dy": 1, "color": "#222"},
             "encoding": {"y": {"field": "v", "type": "quantitative"}}}
          ]
        },
        {
          "width": 288, "height": 27,
          "encoding": {
            "x": {"field": "g", "type": "nominal", "sort": ["Placebo", "LowGOS", "HighGOS"], "scale": {"type": "band", "paddingInner": 0, "paddingOuter": 0}, "axis": null},
            "y": {"field": "r", "type": "nominal", "scale": {"type": "band", "domain": ["t", "g"], "paddingInner": 0, "paddingOuter": 0}, "axis": null}
          },
          "layer": [
            {"data": {"name": "tblT"}, "mark": {"type": "rect", "fill": "white", "stroke": "#555", "strokeWidth": 0.8},
             "encoding": {"xOffset": {"field": "t", "type": "nominal", "sort": ["0", "4", "9"], "scale": {"type": "band", "paddingInner": 0, "paddingOuter": 0}}}},
            {"data": {"name": "tblT"}, "mark": {"type": "text", "fontSize": 9, "color": "#222"},
             "encoding": {"xOffset": {"field": "t", "type": "nominal", "sort": ["0", "4", "9"]}, "text": {"field": "t"}}},
            {"data": {"name": "tblG"}, "mark": {"type": "rect", "fill": "white", "stroke": "#555", "strokeWidth": 0.8}},
            {"data": {"name": "tblG"}, "mark": {"type": "text", "fontSize": 9, "color": "#222"}, "encoding": {"text": {"field": "g"}}}
          ]
        },
        {
          "width": 288, "height": 117,
          "view": {"stroke": "#999"},
          "encoding": {
            "x": {"field": "g", "type": "nominal", "sort": ["Placebo", "LowGOS", "HighGOS"], "scale": {"type": "band", "paddingInner": 0, "paddingOuter": 0}, "axis": null},
            "xOffset": {"field": "t", "type": "nominal", "sort": ["0", "4", "9"], "scale": {"type": "band", "paddingInner": 0, "paddingOuter": 0.3}}
          },
          "layer": [
            {"data": {"name": "boxA"}, "transform": [{"filter": {"field": "p", "equal": "Bfm"}}],
             "mark": {"type": "bar", "width": 18, "fill": "#c8c8c8", "stroke": "#777", "strokeWidth": 0.8},
             "encoding": {"y": {"field": "q1", "type": "quantitative", "scale": {"type": "log", "domain": [1e-6, 10], "nice": false},
               "axis": {"values": [1e-6, 1e-5, 1e-4, 0.001, 0.01, 0.1, 1, 10], "labelExpr": "datum.value >= 0.0009 ? format(datum.value, '~g') : '1E-' + round(-log(datum.value)/LN10)", "labelFontSize": 7.5, "labelPadding": 1, "tickSize": 3, "grid": true, "gridColor": "#e6e6e6", "title": "Bifidobacterium", "titleFontStyle": "italic", "titleFontSize": 10, "titlePadding": 6}},
               "y2": {"field": "q3"}}},
            {"data": {"name": "dotsA"}, "transform": [{"filter": {"field": "p", "equal": "Bfm"}}],
             "mark": {"type": "point", "shape": "circle", "filled": true, "fill": "white", "stroke": "#aaa", "strokeWidth": 0.8, "size": 16, "opacity": 1},
             "encoding": {"y": {"field": "v", "type": "quantitative"}}},
            {"data": {"name": "boxA"}, "transform": [{"filter": {"field": "p", "equal": "Bfm"}}],
             "mark": {"type": "tick", "size": 18, "thickness": 1, "color": "#777"},
             "encoding": {"y": {"field": "med", "type": "quantitative"}}},
            {"data": {"name": "boxA"}, "transform": [{"filter": {"field": "p", "equal": "Bfm"}}],
             "mark": {"type": "line", "color": "#aaa", "strokeWidth": 1},
             "encoding": {"y": {"field": "mean", "type": "quantitative"}, "detail": {"field": "g"}, "order": {"field": "t"}}},
            {"data": {"name": "boxA"}, "transform": [{"filter": {"field": "p", "equal": "Bfm"}}],
             "mark": {"type": "point", "shape": "triangle-down", "filled": true, "color": "#999", "size": 14, "opacity": 1},
             "encoding": {"y": {"field": "mean", "type": "quantitative"}}},
            {"data": {"name": "starsA"}, "transform": [{"filter": {"field": "p", "equal": "Bfm"}}],
             "mark": {"type": "tick", "size": 27, "thickness": 1, "color": "#222"},
             "encoding": {"y": {"field": "v", "type": "quantitative"}}},
            {"data": {"name": "starsA"}, "transform": [{"filter": {"field": "p", "equal": "Bfm"}}],
             "mark": {"type": "text", "text": "*", "fontSize": 14, "fontWeight": "bold", "baseline": "alphabetic", "dy": 1, "color": "#222"},
             "encoding": {"y": {"field": "v", "type": "quantitative"}}}
          ]
        },
        {
          "width": 288, "height": 28,
          "encoding": {
            "x": {"field": "g", "type": "nominal", "sort": ["Placebo", "LowGOS", "HighGOS"], "scale": {"type": "band", "paddingInner": 0, "paddingOuter": 0}, "axis": null},
            "y": {"field": "r", "type": "nominal", "scale": {"type": "band", "domain": ["t", "g"], "paddingInner": 0, "paddingOuter": 0}, "axis": null}
          },
          "layer": [
            {"data": {"name": "tblT"}, "mark": {"type": "rect", "fill": "white", "stroke": "#555", "strokeWidth": 0.8},
             "encoding": {"xOffset": {"field": "t", "type": "nominal", "sort": ["0", "4", "9"], "scale": {"type": "band", "paddingInner": 0, "paddingOuter": 0}}}},
            {"data": {"name": "tblT"}, "mark": {"type": "text", "fontSize": 9, "color": "#222"},
             "encoding": {"xOffset": {"field": "t", "type": "nominal", "sort": ["0", "4", "9"]}, "text": {"field": "t"}}},
            {"data": {"name": "tblG"}, "mark": {"type": "rect", "fill": "white", "stroke": "#555", "strokeWidth": 0.8}},
            {"data": {"name": "tblG"}, "mark": {"type": "text", "fontSize": 9, "color": "#222"}, "encoding": {"text": {"field": "g"}}}
          ]
        }
      ],
      "spacing": 0,
      "bounds": "flush",
      "resolve": {"scale": {"xOffset": "independent"}}
    },
    {
      "vconcat": [
        {"width": 349, "height": 22, "data": {"values": []}, "mark": "point"},
        {
          "hconcat": [
            {
              "width": 47, "height": 175,
              "data": {"name": "dendro"},
              "mark": {"type": "rule", "color": "#444", "strokeWidth": 1},
              "encoding": {
                "x": {"field": "h1", "type": "quantitative", "scale": {"domain": [0, 47], "reverse": true, "nice": false, "zero": false}, "axis": null},
                "x2": {"field": "h2"},
                "y": {"field": "y1", "type": "quantitative", "scale": {"domain": [-0.5, 8.5], "reverse": true, "nice": false, "zero": false}, "axis": null},
                "y2": {"field": "y2"}
              }
            },
            {
              "width": 302, "height": 175,
              "title": {"text": "(b)", "anchor": "start", "frame": "group", "fontSize": 14, "offset": 15},
              "view": {"stroke": "#111", "strokeWidth": 2},
              "encoding": {
                "x": {"field": "c", "type": "nominal", "sort": ["Placebo_0", "Placebo_4", "Placebo_9", "LowGOS_0", "LowGOS_4", "LowGOS_9", "HighGOS_0", "HighGOS_4", "HighGOS_9"], "scale": {"type": "band", "paddingInner": 0, "paddingOuter": 0},
                  "axis": {"orient": "top", "labelAngle": -90, "ticks": false, "domain": false, "title": null, "labelFontSize": 8.5, "labelPadding": 6}}
              },
              "layer": [
                {"data": {"name": "heat"}, "mark": {"type": "rect"},
                 "encoding": {
                   "y": {"field": "s", "type": "nominal", "sort": ["B. animalis", "B. angulatum", "B. adolescentis", "B. breve", "B. dentium", "B. catenulatum", "B. bifidum", "B. longum", "B. gallicum"], "scale": {"paddingInner": 0, "paddingOuter": 0},
                     "axis": {"orient": "right", "ticks": false, "domain": false, "title": null, "labelFontSize": 7.9, "labelPadding": 1}},
                   "color": {"field": "v", "type": "quantitative",
                     "scale": {"domain": [-16.6, -13.5, -10.1, -6.8, -3.47], "range": ["#b2d487", "#c9aa6a", "#d27a53", "#de5238", "#e8171f"], "interpolate": "rgb"},
                     "legend": {"orient": "none", "legendX": 3, "legendY": 188, "direction": "horizontal", "gradientLength": 139, "gradientThickness": 9, "title": null,
                       "values": [-16.6, -15.1, -13.5, -11.8, -10.1, -8.47, -6.8, -5.14, -3.47], "labelExpr": "'-' + format(-datum.value, '.3~g')",
                       "labelFontSize": 5, "labelOverlap": false, "labelOffset": 2, "gradientStrokeColor": "#777", "gradientStrokeWidth": 0.8}}
                 }},
                {"data": {"name": "gsep"}, "mark": {"type": "rule", "color": "#111", "strokeWidth": 1.5},
                 "encoding": {"x": {"field": "c", "type": "nominal", "bandPosition": 0}}}
              ]
            }
          ],
          "spacing": 0,
          "bounds": "flush",
          "resolve": {"scale": {"color": "independent"}, "legend": {"color": "independent"}}
        },
        {"width": 349, "height": 228, "data": {"values": []}, "mark": "point"},
        {
          "hconcat": [
            {"width": 122, "height": 10, "data": {"values": []}, "mark": "point"},
            {
              "vconcat": [
                {
                  "width": 189, "height": 152,
                  "title": {"text": "(c)", "anchor": "start", "frame": "group", "fontSize": 13, "dx": -75, "offset": 1},
                  "view": {"stroke": "#555"},
                  "encoding": {
                    "x": {"field": "g", "type": "nominal", "sort": ["Placebo", "LowGOS", "HighGOS"], "scale": {"type": "band", "paddingInner": 0, "paddingOuter": 0}, "axis": null},
                    "xOffset": {"field": "t", "type": "nominal", "sort": ["0", "4", "9"], "scale": {"type": "band", "paddingInner": 0, "paddingOuter": 0}}
                  },
                  "layer": [
                    {"data": {"name": "boxC"}, "mark": {"type": "bar", "width": 18, "fill": "#c8c8c8", "stroke": "#777", "strokeWidth": 0.8},
                     "encoding": {"y": {"field": "q1", "type": "quantitative", "scale": {"type": "log", "domain": [1e-5, 0.05], "nice": false},
                       "axis": {"values": [1e-5, 1e-4, 0.001, 0.01], "labelExpr": "datum.value >= 0.0009 ? format(datum.value, '~g') : '1E-' + round(-log(datum.value)/LN10)", "labelFontSize": 5.5, "labelPadding": 1, "tickSize": 3, "grid": true, "gridColor": "#e8e8e8", "title": "L. casei", "titleFontStyle": "italic", "titleFontSize": 9, "titlePadding": 5}},
                       "y2": {"field": "q3"}}},
                    {"data": {"name": "boxC"}, "mark": {"type": "rule", "color": "#888", "strokeWidth": 1},
                     "encoding": {"y": {"field": "lo", "type": "quantitative"}, "y2": {"field": "q1"}}},
                    {"data": {"name": "boxC"}, "mark": {"type": "rule", "color": "#888", "strokeWidth": 1},
                     "encoding": {"y": {"field": "q3", "type": "quantitative"}, "y2": {"field": "hi"}}},
                    {"data": {"name": "boxC"}, "mark": {"type": "tick", "size": 18, "thickness": 1, "color": "#666"},
                     "encoding": {"y": {"field": "med", "type": "quantitative"}}},
                    {"data": {"name": "dotsC"}, "mark": {"type": "point", "shape": "circle", "filled": true, "fill": "white", "stroke": "#aaa", "strokeWidth": 0.8, "size": 11, "opacity": 1},
                     "encoding": {"y": {"field": "v", "type": "quantitative"}}},
                    {"data": {"name": "starsC"}, "mark": {"type": "tick", "size": 19, "thickness": 1, "color": "#555"},
                     "encoding": {"y": {"field": "v", "type": "quantitative"}}},
                    {"data": {"name": "starsC"}, "mark": {"type": "text", "text": "*", "fontSize": 16, "baseline": "alphabetic", "dy": 5, "color": "#333"},
                     "encoding": {"y": {"field": "v", "type": "quantitative"}}}
                  ]
                },
                {
                  "width": 189, "height": 33,
                  "encoding": {
                    "x": {"field": "g", "type": "nominal", "sort": ["Placebo", "LowGOS", "HighGOS"], "scale": {"type": "band", "paddingInner": 0, "paddingOuter": 0}, "axis": null},
                    "y": {"field": "r", "type": "nominal", "scale": {"type": "band", "domain": ["t", "l", "g"], "paddingInner": 0, "paddingOuter": 0.7}, "axis": null}
                  },
                  "layer": [
                    {"data": {"name": "tblT"}, "mark": {"type": "text", "fontSize": 10, "color": "#222"},
                     "encoding": {"xOffset": {"field": "t", "type": "nominal", "sort": ["0", "4", "9"], "scale": {"type": "band", "paddingInner": 0, "paddingOuter": 0}}, "text": {"field": "t"}}},
                    {"data": {"name": "lineC"}, "mark": {"type": "tick", "orient": "horizontal", "size": 59, "thickness": 1, "color": "#aaa"}},
                    {"data": {"name": "tblG"}, "mark": {"type": "text", "fontSize": 10, "color": "#222"}, "encoding": {"text": {"field": "g"}}}
                  ]
                }
              ],
              "spacing": 0,
              "bounds": "flush",
              "resolve": {"scale": {"xOffset": "independent"}}
            }
          ],
          "spacing": 0,
          "bounds": "flush",
          "resolve": {"scale": {"xOffset": "independent"}}
        }
      ],
      "spacing": 0,
      "bounds": "flush",
      "resolve": {"scale": {"color": "independent", "xOffset": "independent"}, "legend": {"color": "independent"}}
    }
  ],
  "spacing": 58,
  "bounds": "full",
  "resolve": {"scale": {"color": "independent", "xOffset": "independent"}, "legend": {"color": "independent"}}
}
